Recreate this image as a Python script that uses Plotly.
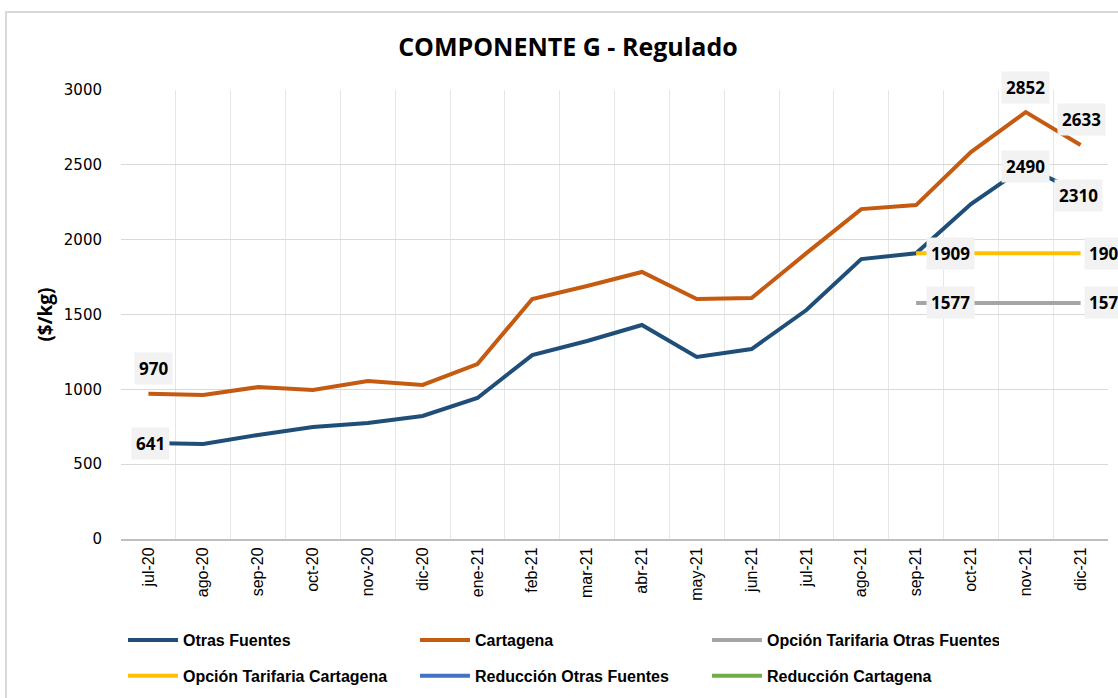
import plotly.graph_objects as go

categories = ["jul-20", "ago-20", "sep-20", "oct-20", "nov-20", "dic-20", "ene-21", "feb-21", "mar-21",
              "abr-21", "may-21", "jun-21", "jul-21", "ago-21", "sep-21", "oct-21", "nov-21", "dic-21"]
otras_fuentes = [641, 635, 695, 748, 775, 822, 942, 1229, 1323, 1430, 1216, 1269, 1530, 1870, 1909, 2238, 2490, 2310]
cartagena = [970, 962, 1015, 995, 1055, 1029, 1169, 1603, 1690, 1784, 1603, 1610, 1910, 2204, 2231, 2585, 2852, 2633]
opcion_otras = [None] * 14 + [1577, 1577, 1577, 1577]
opcion_cart = [None] * 14 + [1909, 1909, 1909, 1909]
reduccion_otras = [None] * 18
reduccion_cart = [None] * 18

fig = go.Figure()
series = [
    ("Otras Fuentes", otras_fuentes, "#1F4E79", "legend"),
    ("Cartagena", cartagena, "#C55A11", "legend"),
    ("Opción Tarifaria Otras Fuentes", opcion_otras, "#A5A5A5", "legend"),
    ("Opción Tarifaria Cartagena", opcion_cart, "#FFC000", "legend2"),
    ("Reducción Otras Fuentes", reduccion_otras, "#4472C4", "legend2"),
    ("Reducción Cartagena", reduccion_cart, "#70AD47", "legend2"),
]
for name, vals, color, leg in series:
    fig.add_trace(go.Scatter(x=categories, y=vals, name=name, mode="lines", legend=leg,
                             line=dict(color=color, width=4), hoverinfo="skip"))

# data labels: (category index, series values, xshift, yshift)
labels = [
    (0, cartagena, 5, 25),
    (0, otras_fuentes, 2, 0),
    (16, cartagena, 0, 25),
    (17, cartagena, 1, 25),
    (16, otras_fuentes, 0, 0),
    (17, otras_fuentes, -2, -2),
    (14, opcion_cart, 34, 0),
    (17, opcion_cart, 28, 0),
    (14, opcion_otras, 34, 0),
    (17, opcion_otras, 28, 0),
]
for i, vals, xs, ys in labels:
    fig.add_annotation(x=categories[i], y=vals[i], text=f"<b>{vals[i]}</b>", showarrow=False,
                       xshift=xs, yshift=ys, bgcolor="#F2F2F2", borderpad=4,
                       font=dict(family="Open Sans", size=17, color="#000000"))

fig.add_shape(type="rect", xref="paper", yref="paper", x0=-0.1165, x1=1.03, y0=-0.45, y1=1.1737,
              line=dict(color="#D9D9D9", width=2), layer="below")

legend_font = dict(family="Liberation Sans", size=16, color="#000000", weight="bold")
fig.update_layout(
    width=1118, height=698,
    margin=dict(l=121, r=10, t=90, b=159, autoexpand=False),
    paper_bgcolor="white", plot_bgcolor="white",
    title=dict(text="<b>COMPONENTE G - Regulado</b>", x=0.508, xanchor="center", y=0.933, yanchor="middle",
               font=dict(family="Open Sans", size=25, color="#000000")),
    showlegend=True,
    legend=dict(orientation="h", x=0.002, xanchor="left", y=-0.225, yanchor="middle",
                entrywidth=227, itemwidth=50, font=legend_font, bgcolor="rgba(0,0,0,0)"),
    legend2=dict(orientation="h", x=0.002, xanchor="left", y=-0.305, yanchor="middle",
                 entrywidth=227, itemwidth=50, font=legend_font, bgcolor="rgba(0,0,0,0)"),
    xaxis=dict(type="category", range=[-0.5, 17.5], tickson="boundaries", showgrid=True,
               gridcolor="#E6E6E6", gridwidth=1, showline=True, linecolor="#BFBFBF", linewidth=2,
               ticks="outside", ticklen=3, tickcolor="rgba(0,0,0,0)", tickangle=-90,
               tickfont=dict(family="Liberation Sans", size=16, color="#000000")),
    yaxis=dict(range=[0, 3000], dtick=500, showgrid=True, gridcolor="#D9D9D9", gridwidth=1,
               zeroline=False, showline=False, ticks="outside", ticklen=15, tickcolor="rgba(0,0,0,0)",
               tickfont=dict(family="DejaVu Sans", size=15, color="#000000"),
               title=dict(text="<b>($/kg)</b>", standoff=6,
                          font=dict(family="Open Sans", size=19, color="#000000"))),
)

fig.write_html("out.html", config={"displayModeBar": False},
               post_script="document.body.style.margin='0px';")
